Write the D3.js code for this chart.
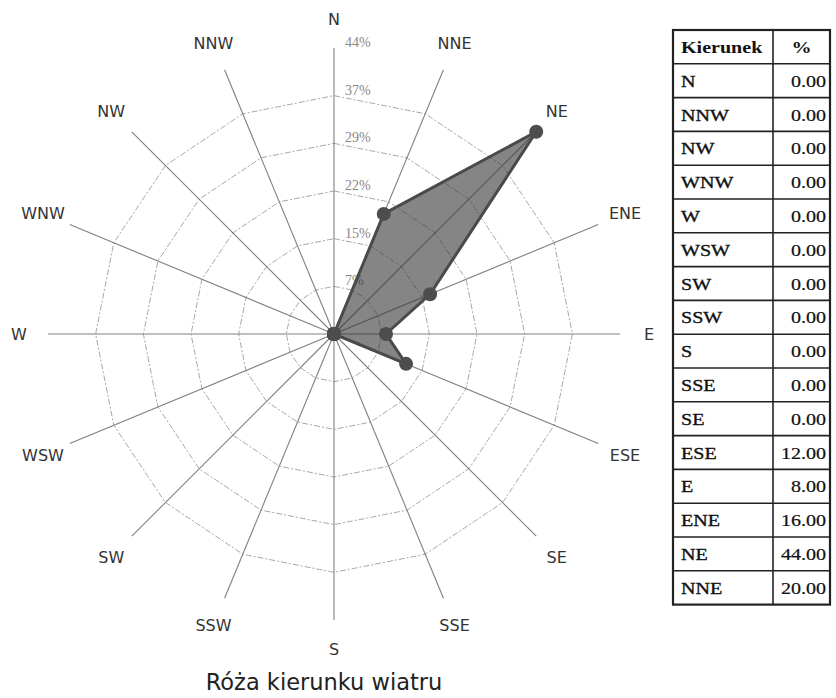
<!DOCTYPE html>
<html><head><meta charset="utf-8">
<script src="https://cdn.jsdelivr.net/npm/d3@7"></script>
<style>body{margin:0;background:#fff;}svg{display:block;}</style>
</head><body>
<svg id="chart" width="836" height="698"></svg>
<script>
const directions = ["N","NNE","NE","ENE","E","ESE","SE","SSE","S","SSW","SW","WSW","W","WNW","NW","NNW"];
const values =     [0, 20, 44, 16, 8, 12, 0, 0, 0, 0, 0, 0, 0, 0, 0, 0];
const tickValues = [7.33, 14.67, 22, 29.33, 36.67, 44];
const tickLabels = ["7%","15%","22%","29%","37%","44%"];
const tableDirs = ["N","NNW","NW","WNW","W","WSW","SW","SSW","S","SSE","SE","ESE","E","ENE","NE","NNE"];
const tableVals = [0,0,0,0,0,0,0,0,0,0,0,12,8,16,44,20];
const title = "Róża kierunku wiatru";

const svg = d3.select("#chart");
const cx = 334, cy = 334, R = 286;
const r = d3.scaleLinear().domain([0, 44]).range([0, R]);
const ang = d3.scalePoint().domain(directions).range([0, 2*Math.PI*15/16]);
const pt = (d, v) => { const a = ang(d); return [cx + r(v)*Math.sin(a), cy - r(v)*Math.cos(a)]; };

const g = svg.append("g");
// rings (all but outermost)
tickValues.slice(0, 5).forEach(t => {
  g.append("polygon")
    .attr("points", directions.map(d => pt(d, t).join(",")).join(" "))
    .attr("fill", "none").attr("stroke", "#a8a8a8").attr("stroke-width", 1)
    .attr("stroke-dasharray", "6,2,2,2");
});
// spokes
directions.forEach(d => {
  const [x, y] = pt(d, 44);
  g.append("line").attr("x1", cx).attr("y1", cy).attr("x2", x).attr("y2", y)
    .attr("stroke", "#808080").attr("stroke-width", 1.1);
});
// tick labels
tickValues.forEach((t, i) => {
  g.append("text").attr("x", cx + 11).attr("y", cy - r(t) - 1)
    .attr("font-family", "Liberation Serif").attr("font-size", 14).attr("fill", "#888")
    .text(tickLabels[i]);
});
// data polygon
const line = d3.lineRadial().angle(d => ang(d.k)).radius(d => r(d.v)).curve(d3.curveLinearClosed);
const data = directions.map((k, i) => ({k, v: values[i]}));
g.append("path").attr("transform", `translate(${cx},${cy})`).attr("d", line(data))
  .attr("fill", "#333").attr("fill-opacity", 0.6)
  .attr("stroke", "#4a4a4a").attr("stroke-width", 3).attr("stroke-linejoin", "round");
// dots
data.forEach(d => {
  const [x, y] = pt(d.k, d.v);
  g.append("circle").attr("cx", x).attr("cy", y).attr("r", 7).attr("fill", "#4d4d4d");
});
// direction labels
directions.forEach(d => {
  const a = ang(d), rr = 315;
  g.append("text").attr("x", cx + rr*Math.sin(a)).attr("y", cy - rr*Math.cos(a) + 6)
    .attr("text-anchor", "middle").attr("font-family", "DejaVu Sans").attr("font-size", 16)
    .attr("fill", "#333").text(d);
});
// title
svg.append("text").attr("x", 324).attr("y", 690).attr("text-anchor", "middle")
  .attr("font-family", "DejaVu Sans").attr("font-size", 22.5).attr("fill", "#222").text(title);

// table
const tx = 673, tw1 = 100, tw2 = 57, ty = 30, rh = 33.8;
const tg = svg.append("g");
const rows = [["Kierunek", "%"]].concat(tableDirs.map((d, i) => [d, d3.format(".2f")(tableVals[i])]));
const sx = 1.18;
rows.forEach((row, i) => {
  const y = ty + i*rh + rh/2 + 6;
  tg.append("text").attr("transform", `translate(${tx + 8},${y}) scale(${sx},1)`)
    .attr("font-family", "Liberation Serif").attr("font-size", 17)
    .attr("font-weight", i === 0 ? "bold" : "normal").attr("fill", "#111")
    .attr("stroke", "#111").attr("stroke-width", i === 0 ? 0 : 0.35).text(row[0]);
  const x2 = i === 0 ? tx + tw1 + tw2/2 : tx + tw1 + tw2 - 4;
  tg.append("text").attr("transform", `translate(${x2},${y}) scale(${sx},1)`)
    .attr("text-anchor", i === 0 ? "middle" : "end")
    .attr("font-family", "Liberation Serif").attr("font-size", 17)
    .attr("font-weight", i === 0 ? "bold" : "normal").attr("fill", "#111")
    .attr("stroke", "#111").attr("stroke-width", i === 0 ? 0 : 0.2).text(row[1]);
  if (i > 0) tg.append("line").attr("x1", tx).attr("x2", tx + tw1 + tw2).attr("y1", ty + i*rh).attr("y2", ty + i*rh)
    .attr("stroke", "#222").attr("stroke-width", 1.6);
});
tg.append("line").attr("x1", tx + tw1).attr("x2", tx + tw1).attr("y1", ty).attr("y2", ty + rows.length*rh)
  .attr("stroke", "#222").attr("stroke-width", 1.6);
tg.append("rect").attr("x", tx).attr("y", ty).attr("width", tw1 + tw2).attr("height", rows.length*rh)
  .attr("fill", "none").attr("stroke", "#222").attr("stroke-width", 2.2);
</script>
</body></html>
